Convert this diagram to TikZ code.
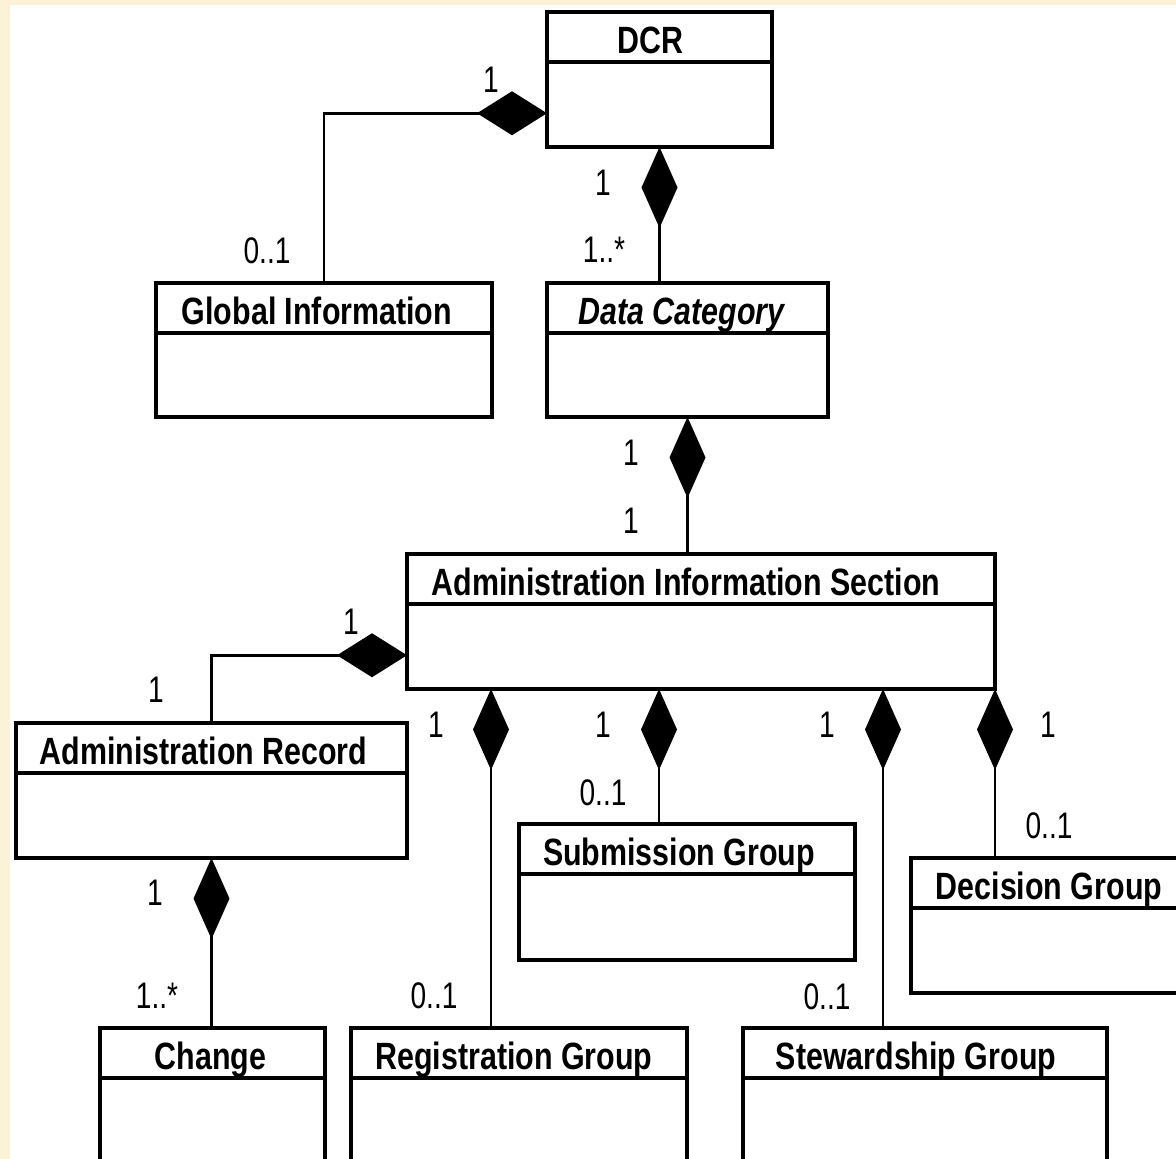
\documentclass[tikz,border=0pt]{standalone}
\usepackage{fontspec}
\setmainfont[FakeStretch=0.8]{Liberation Sans}
\newfontfamily\multfont[FakeStretch=0.76]{Liberation Sans}
\usetikzlibrary{arrows.meta, calc}
\definecolor{paper}{RGB}{252,242,218}

\begin{document}
\begin{tikzpicture}[
    x=1pt, y=-1pt,
    font=\fontsize{38}{44}\selectfont,
    classbox/.style={draw, line width=3.2pt, anchor=north west, inner sep=0pt, outer sep=0pt, minimum height=135pt},
    classhead/.style={draw, line width=3.2pt, anchor=north, inner sep=0pt, outer sep=0pt, minimum height=50pt, text height=32pt, text depth=0pt, font=\fontsize{38}{44}\selectfont\bfseries},
    headshift/.style={execute at end node={\hspace*{#1}}},
    hcomp/.style={{Diamond[length=70pt, width=44pt]}-, line width=2.8pt},
    vcomp/.style={{Diamond[length=81pt, width=36pt]}-, line width=2.8pt},
    mult/.style={inner sep=0pt, font=\multfont\fontsize{37}{44}\selectfont}
]
    % Sheet
    \clip (0,0) rectangle (1176,1159);
    \fill[paper] (0,0) rectangle (1176,1159);
    \fill[white] (10,5) rectangle (1176,1159);

    % Classes
    \node[classbox, minimum width=225pt] (dcr) at (547,12) {};
    \node[classhead, minimum width=225pt, headshift=18pt] (dcrhead) at (dcr.north) {DCR};
    \node[classbox, minimum width=336pt, minimum height=134pt] (gi) at (156,283) {};
    \node[classhead, minimum width=336pt, headshift=14pt] (gihead) at (gi.north) {Global Information};
    \node[classbox, minimum width=281pt, minimum height=134pt] (dc) at (547,283) {};
    \node[classhead, minimum width=281pt, headshift=12pt] (dchead) at (dc.north) {\itshape Data Category};
    \node[classbox, minimum width=588pt] (ais) at (407,554) {};
    \node[classhead, minimum width=588pt, headshift=30pt] (aishead) at (ais.north) {Administration Information Section};
    \node[classbox, minimum width=391pt] (ar) at (16,723) {};
    \node[classhead, minimum width=391pt, headshift=16pt] (arhead) at (ar.north) {Administration Record};
    \node[classbox, minimum width=336pt, minimum height=136pt] (sg) at (519,824) {};
    \node[classhead, minimum width=336pt, headshift=16pt] (sghead) at (sg.north) {Submission Group};
    \node[classbox, minimum width=292pt] (dg) at (911,858) {};
    \node[classhead, minimum width=292pt, headshift=16pt] (dghead) at (dg.north) {Decision Group};
    \node[classbox, minimum width=225pt] (ch) at (100,1028) {};
    \node[classhead, minimum width=225pt, headshift=4pt] (chhead) at (ch.north) {Change};
    \node[classbox, minimum width=336pt] (rg) at (351,1028) {};
    \node[classhead, minimum width=336pt, headshift=10pt] (rghead) at (rg.north) {Registration Group};
    \node[classbox, minimum width=364pt] (st) at (743,1028) {};
    \node[classhead, minimum width=364pt, headshift=18pt] (sthead) at (st.north) {Stewardship Group};

    % Compositions
    \draw[hcomp] ($(dcr.north west)!0.75!(dcr.south west)$) -| (gi.north);
    \draw[vcomp] (dcr.south) -- (dcr.south |- dc.north);
    \draw[vcomp] (dc.south) -- (dc.south |- ais.north);
    \draw[hcomp] ($(ais.north west)!0.75!(ais.south west)$) -| (ar.north);
    \draw[vcomp] (ar.south) -- (ar.south |- ch.north);
    \coordinate (rgpin) at ($(ais.south west)+(84,0)$);
    \coordinate (sgpin) at ($(ais.south west)+(252,0)$);
    \coordinate (stpin) at ($(ais.south west)+(476,0)$);
    \draw[vcomp] (rgpin) -- (rgpin |- rg.north);
    \draw[vcomp] (sgpin) -- (sgpin |- sg.north);
    \draw[vcomp] (stpin) -- (stpin |- st.north);
    \draw[vcomp] (ais.south east) -- (ais.south east |- dg.north);

    % Multiplicities
    \node[mult] (dcrgione) at (491,80) {1};
    \node[mult] (gizeroone) at (267,251) {0..1};
    \node[mult] (dcrdcone) at (603,183) {1};
    \node[mult] (dcmany) at (604,250) {1..*};
    \node[mult] (dcaisone) at (631,453) {1};
    \node[mult] (aisone) at (631,521) {1};
    \node[mult] (aisarone) at (351,622) {1};
    \node[mult] (arone) at (156,690) {1};
    \node[mult] (aisrgone) at (436,725) {1};
    \node[mult] (aissgone) at (603,725) {1};
    \node[mult] (aisstone) at (827,725) {1};
    \node[mult] (aisdgone) at (1048,725) {1};
    \node[mult] (sgzeroone) at (603,793) {0..1};
    \node[mult] (dgzeroone) at (1049,826) {0..1};
    \node[mult] (archone) at (155,893) {1};
    \node[mult] (chmany) at (157,996) {1..*};
    \node[mult] (rgzeroone) at (434,996) {0..1};
    \node[mult] (stzeroone) at (827,997) {0..1};
\end{tikzpicture}
\end{document}
